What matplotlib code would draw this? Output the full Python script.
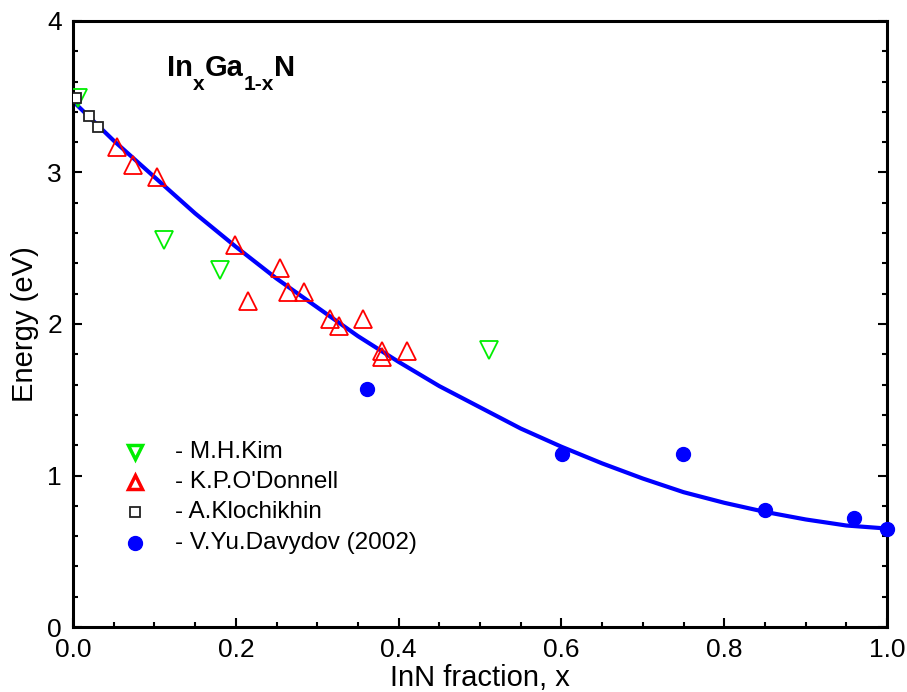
import matplotlib
matplotlib.use('Agg')
import matplotlib.pyplot as plt
from matplotlib.ticker import MultipleLocator

# M.H.Kim (open inverted triangles, green)
kim_x = [0.006, 0.112, 0.181, 0.511]
kim_e = [3.49, 2.555, 2.356, 1.83]

# K.P.O'Donnell (open triangles, red)
odonnell_x = [0.054, 0.074, 0.103, 0.199, 0.215, 0.254, 0.264, 0.284,
              0.316, 0.327, 0.356, 0.380, 0.380, 0.410]
odonnell_e = [3.17, 3.05, 2.97, 2.52, 2.15, 2.37, 2.21, 2.21,
              2.03, 1.99, 2.03, 1.82, 1.78, 1.82]

# A.Klochikhin (open squares, black)
kloch_x = [0.004, 0.020, 0.031]
kloch_e = [3.49, 3.37, 3.30]

# V.Yu.Davydov (2002) (filled circles, blue)
davydov_x = [0.361, 0.601, 0.749, 0.850, 0.959, 1.0]
davydov_e = [1.57, 1.14, 1.14, 0.77, 0.72, 0.65]

# fitted curve
fit_x = [0.0, 0.05, 0.1, 0.15, 0.2, 0.25, 0.3, 0.35, 0.4, 0.45, 0.5,
         0.55, 0.6, 0.65, 0.7, 0.75, 0.8, 0.85, 0.9, 0.95, 1.0]
fit_e = [3.47, 3.21, 2.97, 2.73, 2.51, 2.30, 2.11, 1.92, 1.75, 1.59, 1.45,
         1.31, 1.19, 1.08, 0.98, 0.89, 0.82, 0.76, 0.71, 0.67, 0.65]

legend_labels = ['- M.H.Kim', "- K.P.O'Donnell", '- A.Klochikhin',
                 '- V.Yu.Davydov (2002)']

# title pieces: text, size, baseline shift (px)
title_parts = [('In', 21, 0), ('x', 15, -14), ('Ga', 21, 0),
               ('1-x', 15, -14), ('N', 21, 0)]

plt.rcParams['font.family'] = ['Liberation Sans', 'DejaVu Sans']

W, H = 907, 692
fig = plt.figure(figsize=(W / 100, H / 100), dpi=100)
ax = fig.add_axes([0.0805, 0.0939, 0.8975, 0.8758])

green = '#00ee00'
red = '#ff0000'
blue = '#0000ff'

ax.plot(fit_x, fit_e, color=blue, lw=3, zorder=2)
ax.plot(kim_x, kim_e, 'v', ms=13, mfc='none', mec=green, mew=1.3, zorder=3)
ax.plot(odonnell_x, odonnell_e, '^', ms=13, mfc='none', mec=red, mew=1.3, zorder=3)
ax.plot(kloch_x, kloch_e, 's', ms=7.5, mfc='white', mec='#222222', mew=1.3, zorder=4)
ax.plot(davydov_x, davydov_e, 'o', ms=10, color=blue, zorder=3, clip_on=False)

ax.set_xlim(0, 1.0)
ax.set_ylim(0, 4)
ax.xaxis.set_minor_locator(MultipleLocator(0.05))
ax.yaxis.set_minor_locator(MultipleLocator(0.2))
ax.set_xticks([0, 0.2, 0.4, 0.6, 0.8, 1.0])
ax.set_xticklabels(['0.0', '0.2', '0.4', '0.6', '0.8', '1.0'])
ax.set_yticks([0, 1, 2, 3, 4])
ax.set_yticklabels(['0', '1', '2', '3', '4'])

ax.tick_params(which='both', direction='in', top=False, right=True, width=1.5)
ax.tick_params(which='major', length=6.5, pad=8, labelsize=19)
ax.tick_params(which='minor', length=3.6)
for sp in ax.spines.values():
    sp.set_linewidth(2.2)

ax.set_xlabel('InN fraction, x', fontsize=21, labelpad=1)
ax.set_ylabel('Energy (eV)', fontsize=21, labelpad=6)

# title drawn piece by piece so the subscripts sit like the original
renderer = fig.canvas.get_renderer()
x_px, base_px = 167, H - 76
for txt, size, dy in title_parts:
    t = fig.text(x_px / W, (base_px + dy) / H, txt, fontsize=size,
                 fontweight='bold', va='baseline')
    x_px = t.get_window_extent(renderer).x1

# hand-made legend
leg_styles = [
    dict(marker='v', ms=10, mfc='none', mec=green, mew=2.5),
    dict(marker='^', ms=10, mfc='none', mec=red, mew=2.5),
    dict(marker='s', ms=7.5, mfc='white', mec='#222222', mew=1.3),
    dict(marker='o', ms=10, color=blue),
]
leg_y = [0.289, 0.239, 0.190, 0.139]
for st, yy, lab in zip(leg_styles, leg_y, legend_labels):
    ax.plot([0.076], [yy], transform=ax.transAxes, ls='none', **st)
    ax.text(0.125, yy, lab, transform=ax.transAxes, fontsize=17.5, va='center')

fig.savefig('out.png', dpi=100)
